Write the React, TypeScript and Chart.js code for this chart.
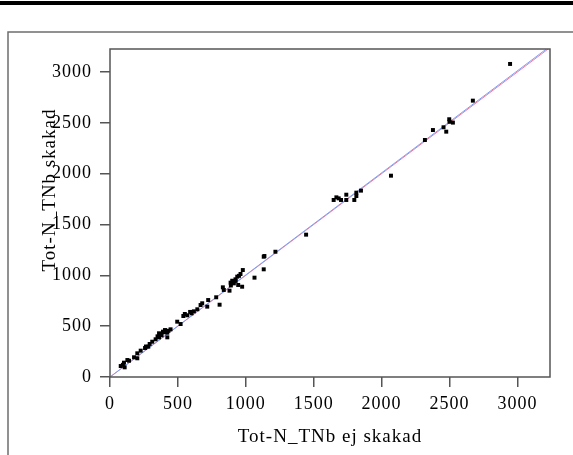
import { useEffect, useRef } from "react";
import { Chart, registerables } from "chart.js";

Chart.register(...registerables);

// Tot-N_TNb ej skakad (x) vs Tot-N_TNb skakad (y)
const xEjSkakad = [
  79, 108, 103, 128, 95, 140, 177, 201, 201, 226, 258, 265, 282, 292, 311, 336,
  350, 361, 361, 372, 380, 390, 398, 405, 422, 422, 430, 446, 495, 520, 540, 551,
  569, 590, 601, 618, 643, 667, 679, 716, 723, 782, 807, 831, 838, 880, 888, 890,
  900, 905, 912, 924, 925, 937, 944, 950, 961, 973, 978, 1064, 1132, 1132, 1137,
  1218, 1444, 1647, 1667, 1684, 1701, 1740, 1740, 1799, 1814, 1814, 1848, 2069,
  2319, 2378, 2456, 2476, 2498, 2500, 2525, 2672, 2946,
];
const ySkakad = [
  108, 95, 141, 167, 120, 160, 194, 184, 233, 259, 285, 300, 298, 325, 347, 371,
  400, 390, 430, 420, 410, 446, 440, 462, 390, 436, 455, 469, 544, 521, 600, 620,
  607, 640, 626, 646, 666, 708, 725, 692, 757, 784, 711, 882, 856, 849, 928, 900,
  947, 935, 921, 961, 945, 987, 905, 995, 1013, 888, 1052, 977, 1183, 1059, 1190,
  1232, 1400, 1741, 1767, 1757, 1741, 1793, 1741, 1741, 1780, 1813, 1833, 1980,
  2331, 2429, 2456, 2413, 2535, 2510, 2502, 2718, 3079,
];

const X_TICKS = [0, 500, 1000, 1500, 2000, 2500, 3000];
const Y_TICKS = [0, 500, 1000, 1500, 2000, 2500, 3000];
const X_MAX = 3240;
const Y_MAX = 3226;
const refLineEnds = [0, 3240]; // y = x
const fitSlope = 1.004;
const fitIntercept = 0;

const X_TITLE = "Tot-N_TNb ej skakad";
const Y_TITLE = "Tot-N_TNb skakad";
const FONT_FAMILY = '"Liberation Serif", "Times New Roman", serif';

const decor = {
  id: "decor",
  beforeUpdate(chart: any) {
    chart.ctx.letterSpacing = "1px";
  },
  beforeDraw(chart: any) {
    const ctx = chart.ctx;
    ctx.save();
    ctx.fillStyle = "#000";
    ctx.fillRect(0, 1, chart.width, 4);
    ctx.strokeStyle = "#6e6e6e";
    ctx.lineWidth = 1.5;
    ctx.beginPath();
    ctx.moveTo(8, chart.height);
    ctx.lineTo(8, 32);
    ctx.lineTo(chart.width, 32);
    ctx.stroke();
    ctx.restore();
    ctx.letterSpacing = "1px";
  },
  afterDraw(chart: any) {
    const { ctx, chartArea: a } = chart;
    ctx.save();
    ctx.strokeStyle = "#555";
    ctx.lineWidth = 1.5;
    ctx.strokeRect(a.left, a.top, a.right - a.left, a.bottom - a.top);
    ctx.translate(50, 190);
    ctx.rotate(-Math.PI / 2);
    ctx.letterSpacing = "1px";
    ctx.font = `19px ${FONT_FAMILY}`;
    ctx.fillStyle = "#000";
    ctx.textAlign = "center";
    ctx.textBaseline = "middle";
    ctx.fillText(Y_TITLE, 0, 0);
    ctx.restore();
  },
};

export default function App() {
  const ref = useRef<HTMLCanvasElement | null>(null);

  useEffect(() => {
    if (!ref.current) return;
    const points = xEjSkakad.map((x, i) => ({ x, y: ySkakad[i] }));
    const ref1 = refLineEnds.map((v) => ({ x: v, y: v }));
    const fit = refLineEnds.map((v) => ({ x: v, y: fitIntercept + fitSlope * v }));
    const tickFont = { family: FONT_FAMILY, size: 18 };
    const grid = {
      display: true,
      drawOnChartArea: false,
      drawTicks: true,
      tickLength: 10,
      color: "#555",
      lineWidth: 1.5,
    };
    const chart = new Chart(ref.current, {
      type: "scatter",
      data: {
        datasets: [
          {
            data: points,
            backgroundColor: "#000",
            borderWidth: 0,
            pointStyle: "rect",
            pointRadius: 2.8,
          },
          {
            data: fit,
            showLine: true,
            borderColor: "rgb(130,160,240)",
            borderWidth: 1,
            pointRadius: 0,
          },
          {
            data: ref1,
            showLine: true,
            borderColor: "rgb(240,120,160)",
            borderWidth: 1,
            pointRadius: 0,
          },
        ],
      },
      options: {
        animation: false,
        responsive: false,
        layout: { padding: { left: 0, right: 23, top: 49, bottom: 0 } },
        plugins: { legend: { display: false }, tooltip: { enabled: false } },
        scales: {
          x: {
            type: "linear",
            min: 0,
            max: X_MAX,
            afterBuildTicks: (s: any) => {
              s.ticks = X_TICKS.map((v) => ({ value: v }));
            },
            afterFit: (s: any) => {
              s.height = 78;
            },
            ticks: {
              font: tickFont,
              color: "#000",
              padding: 6,
              maxRotation: 0,
              autoSkip: false,
              callback: (v: any) => String(v),
            },
            grid,
            border: { display: false },
            title: {
              display: true,
              text: X_TITLE,
              color: "#000",
              font: { family: FONT_FAMILY, size: 19 },
              padding: { top: 0, bottom: 7 },
            },
          },
          y: {
            type: "linear",
            min: 0,
            max: Y_MAX,
            afterBuildTicks: (s: any) => {
              s.ticks = Y_TICKS.map((v) => ({ value: v }));
            },
            afterFit: (s: any) => {
              s.width = 110;
            },
            ticks: {
              font: tickFont,
              color: "#000",
              padding: 8,
              autoSkip: false,
              callback: (v: any) => String(v),
            },
            grid,
            border: { display: false },
          },
        },
      },
      plugins: [decor],
    } as any);
    return () => chart.destroy();
  }, []);

  return (
    <div style={{ position: "absolute", left: 0, top: 0, width: 573, height: 455 }}>
      <canvas ref={ref} width={573} height={455} />
    </div>
  );
}
